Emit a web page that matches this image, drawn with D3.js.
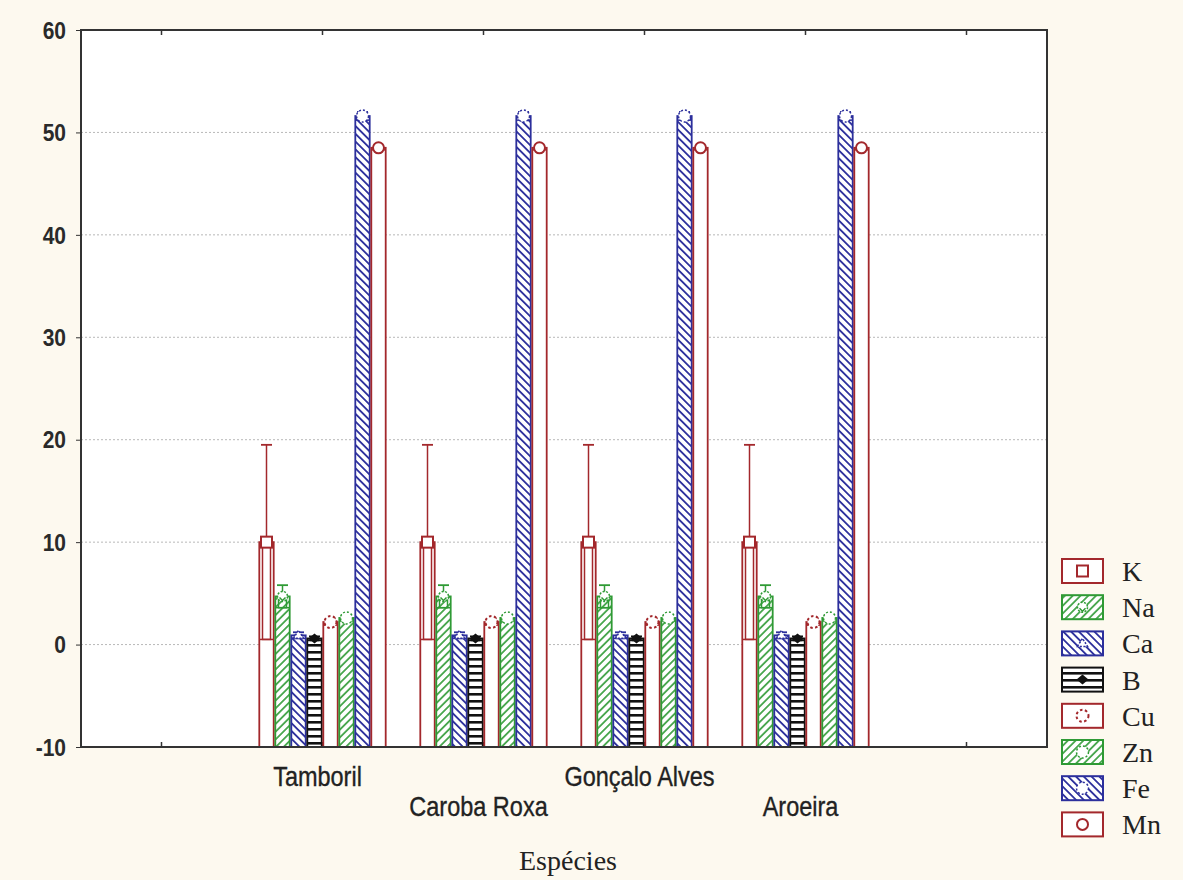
<!DOCTYPE html>
<html>
<head>
<meta charset="utf-8">
<script src="https://cdn.jsdelivr.net/npm/d3@7"></script>
<style>
  html, body { margin: 0; padding: 0; background: #fdf9ef; }
  svg { display: block; }
</style>
</head>
<body>
<svg id="chart" width="1183" height="880"></svg>
<script>
// Species (x categories) and nutrient series
const categories = ["Tamboril", "Caroba Roxa", "Gonçalo Alves", "Aroeira"];
const elements = ["K", "Na", "Ca", "B", "Cu", "Zn", "Fe", "Mn"];

// Mean value of each nutrient, per species (same order as categories)
const meanK  = [10.0, 10.0, 10.0, 10.0];
const meanNa = [4.7, 4.7, 4.7, 4.7];
const meanCa = [0.9, 0.9, 0.9, 0.9];
const meanB  = [0.6, 0.6, 0.6, 0.6];
const meanCu = [2.2, 2.2, 2.2, 2.2];
const meanZn = [2.6, 2.6, 2.6, 2.6];
const meanFe = [51.6, 51.6, 51.6, 51.6];
const meanMn = [48.5, 48.5, 48.5, 48.5];

// Error half-widths of each nutrient, per species
const errK  = [9.5, 9.5, 9.5, 9.5];
const errNa = [1.1, 1.1, 1.1, 1.1];
const errCa = [0.3, 0.3, 0.3, 0.3];
const errB  = [0.2, 0.2, 0.2, 0.2];
const errCu = [0.3, 0.3, 0.3, 0.3];
const errZn = [0.3, 0.3, 0.3, 0.3];
const errFe = [0.4, 0.4, 0.4, 0.4];
const errMn = [0.2, 0.2, 0.2, 0.2];

const yTicks = [-10, 0, 10, 20, 30, 40, 50, 60];
const xTitle = "Espécies";

const means = { K: meanK, Na: meanNa, Ca: meanCa, B: meanB, Cu: meanCu, Zn: meanZn, Fe: meanFe, Mn: meanMn };
const errs  = { K: errK, Na: errNa, Ca: errCa, B: errB, Cu: errCu, Zn: errZn, Fe: errFe, Mn: errMn };

const RED = "#a3282c", GREEN = "#2f9a35", BLUE = "#2c2f9c", BLACK = "#111";
const style = {
  K:  { stroke: RED,   fill: "#fff",             marker: "square" },
  Na: { stroke: GREEN, fill: "url(#hatchGreen)", marker: "naMark" },
  Ca: { stroke: BLUE,  fill: "url(#hatchBlue)",  marker: "caMark" },
  B:  { stroke: BLACK, fill: "url(#hatchBlack)", marker: "bMark" },
  Cu: { stroke: RED,   fill: "#fff",             marker: "cuMark" },
  Zn: { stroke: GREEN, fill: "url(#hatchGreen)", marker: "znMark" },
  Fe: { stroke: BLUE,  fill: "url(#hatchBlue)",  marker: "feMark" },
  Mn: { stroke: RED,   fill: "#fff",             marker: "mnMark" }
};

const svg = d3.select("#chart");
const L = 81, R = 1047, T = 30, B = 747;

// Plot background
svg.append("rect").attr("x", L).attr("y", T).attr("width", R - L).attr("height", B - T).attr("fill", "#fff");

// Hatch patterns
const defs = svg.append("defs");
function hatch(id, color, angle, gap, w) {
  const p = defs.append("pattern").attr("id", id).attr("patternUnits", "userSpaceOnUse")
    .attr("width", gap).attr("height", gap).attr("patternTransform", `rotate(${angle})`);
  p.append("rect").attr("width", gap).attr("height", gap).attr("fill", "#fff");
  p.append("line").attr("x1", gap / 2).attr("x2", gap / 2).attr("y1", 0).attr("y2", gap)
    .attr("stroke", color).attr("stroke-width", w);
}
hatch("hatchGreen", GREEN, 45, 5.5, 1.6);
hatch("hatchBlue", BLUE, -45, 5.5, 1.8);
const pb = defs.append("pattern").attr("id", "hatchBlack").attr("patternUnits", "userSpaceOnUse")
  .attr("width", 8).attr("height", 7);
pb.append("rect").attr("width", 8).attr("height", 7).attr("fill", "#fff");
pb.append("rect").attr("y", 0).attr("width", 8).attr("height", 2.6).attr("fill", BLACK);

// Scales: six slots, species occupy the four middle ones
const slot = d3.scaleLinear().domain([0, 6]).range([L, R]);
const slotCenter = i => slot(i + 1.5);
const y = d3.scaleLinear().domain([-10, 60]).range([B, T]);
const inner = d3.scaleBand().domain(elements).range([-64, 64]).padding(0);

// Grid lines
svg.append("g").selectAll("line").data(yTicks.filter(v => v > -10 && v < 60)).join("line")
  .attr("x1", L).attr("x2", R).attr("y1", d => y(d)).attr("y2", d => y(d))
  .attr("stroke", "#b8b8b8").attr("stroke-width", 1).attr("stroke-dasharray", "2,2");

// Y axis: tick marks from d3.axisLeft, labels drawn slightly tall
const yAxis = d3.axisLeft(y).tickValues(yTicks).tickSize(5).tickFormat("");
const gy = svg.append("g").attr("transform", `translate(${L},0)`).call(yAxis);
gy.select(".domain").remove();
gy.selectAll(".tick line").attr("stroke", "#333");
svg.append("g").selectAll("text").data(yTicks).join("text")
  .attr("transform", d => `translate(66,${y(d)}) scale(1,1.15)`)
  .attr("text-anchor", "end").attr("dy", "0.36em")
  .attr("font-family", "Liberation Sans, Arial, sans-serif").attr("font-size", 21)
  .attr("font-weight", "bold").attr("fill", "#2a2a2a").text(d => String(d));

// Slot ticks on top and bottom edges (inward)
const slotTicks = d3.range(6).map(i => slot(i + 0.5));
svg.append("g").selectAll("line").data(slotTicks).join("line")
  .attr("x1", d => d).attr("x2", d => d).attr("y1", T).attr("y2", T + 5).attr("stroke", "#333").attr("stroke-width", 1.5);
svg.append("g").selectAll("line").data(slotTicks).join("line")
  .attr("x1", d => d).attr("x2", d => d).attr("y1", B).attr("y2", B - 5).attr("stroke", "#333").attr("stroke-width", 1.5);

// Marker shapes
function drawMarker(g, kind, cx, cy) {
  const m = g.append("g").attr("transform", `translate(${cx},${cy})`);
  switch (kind) {
    case "square":
      m.append("rect").attr("x", -5.5).attr("y", -5.5).attr("width", 11).attr("height", 11)
        .attr("fill", "#fff").attr("stroke", RED).attr("stroke-width", 2);
      break;
    case "naMark":
      m.append("circle").attr("r", 5).attr("fill", "#fff").attr("stroke", GREEN).attr("stroke-width", 1.5).attr("stroke-dasharray", "2,1.5");
      m.append("path").attr("d", "M-3,1 L0,4 L3,1").attr("fill", "none").attr("stroke", GREEN).attr("stroke-width", 1.5);
      break;
    case "caMark":
      m.append("path").attr("d", "M-5,3 L0,-5 L5,3 Z").attr("fill", "#fff").attr("stroke", BLUE).attr("stroke-width", 1.5).attr("stroke-dasharray", "2,1.5");
      break;
    case "bMark":
      m.append("path").attr("d", "M-6,0 L0,-5 L6,0 L0,5 Z").attr("fill", BLACK);
      break;
    case "cuMark":
      m.append("circle").attr("r", 6).attr("fill", "#fff").attr("stroke", RED).attr("stroke-width", 2).attr("stroke-dasharray", "2.5,2.5");
      break;
    case "znMark":
      m.append("circle").attr("r", 6).attr("fill", "#fff").attr("stroke", GREEN).attr("stroke-width", 1.5).attr("stroke-dasharray", "2,2");
      break;
    case "feMark":
      m.append("circle").attr("r", 6).attr("fill", "#fff").attr("stroke", BLUE).attr("stroke-width", 1.5).attr("stroke-dasharray", "2,2");
      break;
    case "mnMark":
      m.append("circle").attr("r", 5.5).attr("fill", "#fff").attr("stroke", RED).attr("stroke-width", 2);
      break;
  }
}

// Bars with error whiskers and markers
const gBars = svg.append("g");
categories.forEach((cat, ci) => {
  const c = slotCenter(ci);
  elements.forEach(el => {
    const s = style[el];
    const v = means[el][ci], e = errs[el][ci];
    const x0 = c + inner(el) + 0.8, w = inner.bandwidth() - 1.6, cx = x0 + w / 2;
    const g = gBars.append("g");
    g.append("rect").attr("x", x0).attr("y", y(v)).attr("width", w).attr("height", y(-10) - y(v))
      .attr("fill", s.fill).attr("stroke", s.stroke).attr("stroke-width", 1.8);
    // lower whisker
    g.append("rect").attr("x", cx - 4).attr("y", y(v)).attr("width", 8).attr("height", y(v - e) - y(v))
      .attr("fill", "none").attr("stroke", s.stroke).attr("stroke-width", 1.5);
    g.append("line").attr("x1", x0).attr("x2", x0 + w).attr("y1", y(v - e)).attr("y2", y(v - e))
      .attr("stroke", s.stroke).attr("stroke-width", 1.5);
    // upper whisker
    g.append("line").attr("x1", cx).attr("x2", cx).attr("y1", y(v)).attr("y2", y(v + e))
      .attr("stroke", s.stroke).attr("stroke-width", 1.5);
    g.append("line").attr("x1", cx - 5.5).attr("x2", cx + 5.5).attr("y1", y(v + e)).attr("y2", y(v + e))
      .attr("stroke", s.stroke).attr("stroke-width", 1.8);
    drawMarker(g, s.marker, cx, y(v));
  });
});

// Frame
svg.append("rect").attr("x", L).attr("y", T).attr("width", R - L).attr("height", B - T)
  .attr("fill", "none").attr("stroke", "#333").attr("stroke-width", 2);

// Category labels, staggered on two rows
svg.append("g").selectAll("text").data(categories).join("text")
  .attr("transform", (d, i) => `translate(${slotCenter(i) - 5},${i % 2 === 0 ? 786 : 816}) scale(1,1.2)`)
  .attr("text-anchor", "middle").attr("font-family", "Liberation Sans, Arial, sans-serif")
  .attr("font-size", 23.5).attr("fill", "#222").attr("stroke", "#222").attr("stroke-width", 0.3)
  .text(d => d);

// X axis title
svg.append("text").attr("x", 568).attr("y", 870).attr("text-anchor", "middle")
  .attr("font-family", "Liberation Serif, Times New Roman, serif").attr("font-size", 28)
  .attr("fill", "#222").text(xTitle);

// Legend
const legend = svg.append("g");
elements.forEach((el, i) => {
  const s = style[el];
  const ly = 571 + i * 36.2;
  legend.append("rect").attr("x", 1062).attr("y", ly - 12).attr("width", 41).attr("height", 24)
    .attr("fill", s.fill).attr("stroke", s.stroke).attr("stroke-width", 2);
  drawMarker(legend, s.marker, 1082.5, ly);
  legend.append("text").attr("x", 1122).attr("y", ly + 10)
    .attr("font-family", "Liberation Serif, Times New Roman, serif").attr("font-size", 28)
    .attr("fill", "#222").text(el);
});
</script>
</body>
</html>
